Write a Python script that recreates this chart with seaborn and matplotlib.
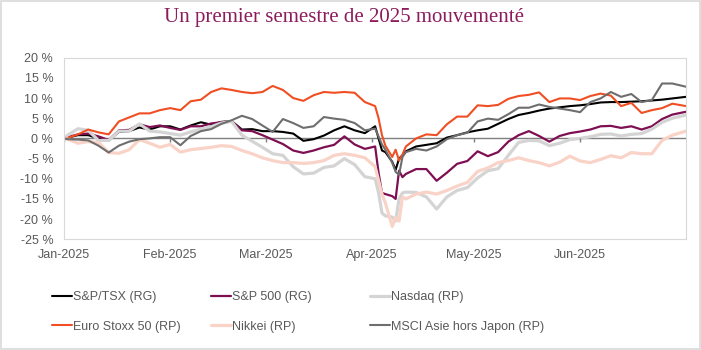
import matplotlib
matplotlib.use('Agg')
import matplotlib.pyplot as plt
import matplotlib.dates as mdates
from matplotlib.lines import Line2D
from matplotlib.patches import Rectangle
from matplotlib.ticker import FuncFormatter
import pandas as pd
import seaborn as sns

# dates of the sampled points (calendar dates, 2025)
dates = [
    "2025-01-01", "2025-01-02", "2025-01-05", "2025-01-08", "2025-01-11", "2025-01-14",
    "2025-01-17", "2025-01-20", "2025-01-23", "2025-01-26", "2025-01-29",
    "2025-02-01", "2025-02-04", "2025-02-07", "2025-02-10", "2025-02-13", "2025-02-16",
    "2025-02-19", "2025-02-22", "2025-02-25", "2025-02-28",
    "2025-03-03", "2025-03-06", "2025-03-09", "2025-03-12", "2025-03-15", "2025-03-18",
    "2025-03-21", "2025-03-24", "2025-03-27", "2025-03-30",
    "2025-04-02", "2025-04-03", "2025-04-04", "2025-04-05", "2025-04-07", "2025-04-08",
    "2025-04-09", "2025-04-10", "2025-04-11", "2025-04-14", "2025-04-17", "2025-04-20",
    "2025-04-23", "2025-04-26", "2025-04-29",
    "2025-05-02", "2025-05-05", "2025-05-08", "2025-05-11", "2025-05-14", "2025-05-17",
    "2025-05-20", "2025-05-23", "2025-05-26", "2025-05-29",
    "2025-06-01", "2025-06-04", "2025-06-07", "2025-06-10", "2025-06-13", "2025-06-16",
    "2025-06-19", "2025-06-22", "2025-06-25", "2025-06-28",
    "2025-07-02",
]

# cumulative return since Jan 1, in %
tsx = [0, 0.2, 0.8, 0.8, 0.0, -0.5, 1.6, 1.8, 2.7, 2.2, 3.0,
       3.0, 2.2, 3.2, 4.0, 3.4, 4.1, 4.3, 2.2, 2.3, 1.8,
       1.8, 1.6, 1.2, -0.6, -0.2, 0.7, 2.0, 3.0, 2.0, 1.3,
       3.0, 0.0, -3.0, -3.4, -5.8, -7.8, -5.0, -4.2, -3.2, -2.0, -1.6, -1.2, 0.2, 0.8, 1.5,
       2.0, 2.4, 3.6, 4.8, 5.8, 6.3, 6.9, 7.4, 7.7, 8.0,
       8.2, 8.5, 8.9, 9.0, 9.0, 9.1, 9.2, 9.4, 9.6, 9.9,
       10.3]
sp500 = [0, 0.3, 1.0, 1.2, 0.5, -0.4, 2.0, 2.1, 3.5, 2.8, 3.2,
         2.6, 2.1, 3.0, 3.0, 3.7, 4.0, 4.2, 2.0, 1.8, 0.8,
         -0.3, -1.4, -3.0, -3.6, -3.0, -2.2, -1.6, 0.5, -1.5, -2.6,
         -2.0, -8.5, -13.5, -13.8, -14.3, -15.0, -8.0, -9.6, -8.8, -7.6, -7.6, -10.5, -8.5, -6.3, -5.6,
         -3.2, -4.4, -3.4, -0.8, 0.8, 1.8, 0.6, -0.8, 0.6, 1.3,
         1.7, 2.2, 3.0, 3.1, 2.6, 3.0, 2.2, 3.0, 4.8, 5.9,
         6.6]
nasdaq = [0, 0.8, 2.4, 2.0, -0.5, -0.5, 1.8, 1.8, 3.6, 1.8, 1.6,
          1.2, 0.8, 1.6, 2.3, 2.9, 3.8, 4.2, 0.8, -0.7, -2.2,
          -3.8, -4.2, -7.0, -8.8, -8.6, -7.2, -6.8, -5.0, -6.5, -9.5,
          -10.0, -13.5, -18.5, -19.2, -19.5, -20.5, -15.0, -13.5, -13.3, -13.4, -14.5, -17.5, -14.5, -12.9, -12.2,
          -9.8, -8.0, -7.5, -4.2, -1.0, -0.5, -0.6, -1.8, -1.2, -0.3,
          0.0, 0.4, 1.0, 1.1, 0.6, 1.0, 1.2, 2.3, 4.0, 5.0,
          5.8]
eurostoxx = [0, 0.1, 1.0, 2.2, 1.5, 1.0, 4.2, 5.2, 6.2, 6.2, 7.0,
             7.5, 7.0, 9.2, 9.6, 11.5, 12.4, 12.0, 11.5, 11.2, 11.5,
             13.0, 12.0, 10.0, 9.3, 10.7, 11.5, 11.3, 11.5, 11.3, 9.0,
             8.0, 5.0, 0.8, -1.8, -4.6, -2.8, -5.5, -4.0, -2.0, 0.0, 1.0, 0.8, 3.5, 5.4, 5.4,
             8.2, 8.0, 8.3, 9.8, 10.5, 10.8, 11.4, 9.0, 9.9, 9.9,
             9.5, 10.5, 11.1, 10.6, 8.0, 8.8, 6.3, 7.0, 7.5, 8.6,
             8.0]
nikkei = [0, -0.2, -1.2, -0.8, -1.0, -3.5, -3.7, -2.8, -0.3, -1.2, -2.2,
          -1.5, -3.4, -2.8, -2.5, -2.2, -1.8, -2.0, -3.0, -3.8, -4.8,
          -5.5, -6.0, -6.0, -6.2, -6.0, -5.5, -4.2, -3.8, -4.2, -4.8,
          -7.0, -10.4, -13.8, -16.0, -21.8, -19.5, -20.5, -14.5, -15.0, -13.8, -13.3, -13.8, -12.9, -11.8, -10.9,
          -8.2, -7.3, -6.0, -5.5, -4.8, -5.5, -6.0, -6.8, -5.9, -4.4,
          -5.6, -6.0, -5.2, -4.3, -4.8, -3.5, -3.8, -3.8, -0.5, 0.8,
          1.8]
msci_asia = [0, -0.2, -0.3, -0.5, -1.8, -3.5, -1.8, -0.8, -0.2, 0.0, 0.3,
             0.3, -1.7, 0.6, 1.8, 2.3, 3.6, 4.5, 5.6, 4.8, 3.2,
             1.6, 4.8, 3.8, 2.6, 3.0, 5.3, 4.9, 4.6, 3.8, 2.0,
             2.4, 0.5, -1.5, -2.8, -6.0, -8.3, -9.0, -4.6, -3.4, -2.6, -3.0, -2.0, -0.2, 0.8, 1.4,
             4.2, 4.9, 4.6, 6.0, 7.6, 7.6, 8.4, 7.8, 7.4, 7.0,
             6.5, 9.0, 9.9, 11.5, 10.3, 11.0, 9.0, 9.5, 13.6, 13.6,
             12.8]

names = ["S&P/TSX (RG)", "S&P 500 (RG)", "Nasdaq (RP)",
         "Euro Stoxx 50 (RP)", "Nikkei (RP)", "MSCI Asie hors Japon (RP)"]
month_ticks = ["2025-01-01", "2025-02-01", "2025-03-01", "2025-04-01", "2025-05-01", "2025-06-01"]

colors = ["#000000", "#7E0F52", "#D4D4D4", "#F04E23", "#F9D3C7", "#6E6E6E"]
widths = [1.5, 1.6, 2.3, 1.5, 2.3, 1.5]

df = pd.DataFrame({"date": pd.to_datetime(dates)})
for name, vals in zip(names, [tsx, sp500, nasdaq, eurostoxx, nikkei, msci_asia]):
    df[name] = vals
long = df.melt(id_vars="date", var_name="indice", value_name="rendement")

sns.set_style("white")
plt.rcParams["font.family"] = ["Liberation Sans", "DejaVu Sans"]
txt_col = "#595959"

fig = plt.figure(figsize=(7.01, 3.5), dpi=100)
ax = fig.add_axes([0.0917, 0.3163, 0.8869, 0.5189])

for name, c, lw in zip(names, colors, widths):
    sub = long[long["indice"] == name]
    sns.lineplot(data=sub, x="date", y="rendement", color=c, linewidth=lw,
                 estimator=None, legend=False, ax=ax)

# horizontal axis line at 0 with small month ticks
ax.axhline(0, color="#7F7F7F", linewidth=1.0, zorder=1)
mt = pd.to_datetime(month_ticks)
ax.plot(mt, [0] * len(mt), ls="none", marker=3, ms=3, mew=1.0, color="#7F7F7F")

ax.set_xlim(pd.Timestamp("2025-01-01"), pd.Timestamp("2025-07-02"))
ax.set_ylim(-25, 20)
ax.set_yticks(range(-25, 21, 5))
ax.yaxis.set_major_formatter(FuncFormatter(lambda v, p: f"{v:.0f} %"))
ax.set_xticks(mt)
ax.xaxis.set_major_formatter(mdates.DateFormatter("%b-%Y"))
ax.tick_params(axis="both", length=0, labelsize=9, labelcolor=txt_col)
ax.tick_params(axis="y", pad=8)
ax.tick_params(axis="x", pad=7)
ax.set_xlabel("")
ax.set_ylabel("")
for sp in ax.spines.values():
    sp.set_visible(True)
    sp.set_color("#D9D9D9")
    sp.set_linewidth(0.8)

fig.text(0.4914, 0.951, "Un premier semestre de 2025 mouvementé", ha="center", va="center",
         fontsize=15, color="#8C1C5C", family=["Liberation Serif", "DejaVu Serif"])

# legend: three columns of two entries
handles = [Line2D([], [], color=c, lw=lw) for c, lw in zip(colors, widths)]
col_x = [0.0738, 0.3006, 0.5278]
for i, x in enumerate(col_x):
    idx = [i, i + 3]
    leg = fig.legend([handles[j] for j in idx], [names[j] for j in idx],
                     loc="center left", bbox_to_anchor=(x, 0.109), frameon=False,
                     fontsize=9, handlelength=1.6, handletextpad=0.1, borderpad=0,
                     borderaxespad=0, labelspacing=1.4, labelcolor=txt_col)

fig.patches.append(Rectangle((0.0015, 0.003), 0.997, 0.994, transform=fig.transFigure,
                             fill=False, edgecolor="#D9D9D9", linewidth=1.2))

fig.savefig("out.png", dpi=100, facecolor="white")
